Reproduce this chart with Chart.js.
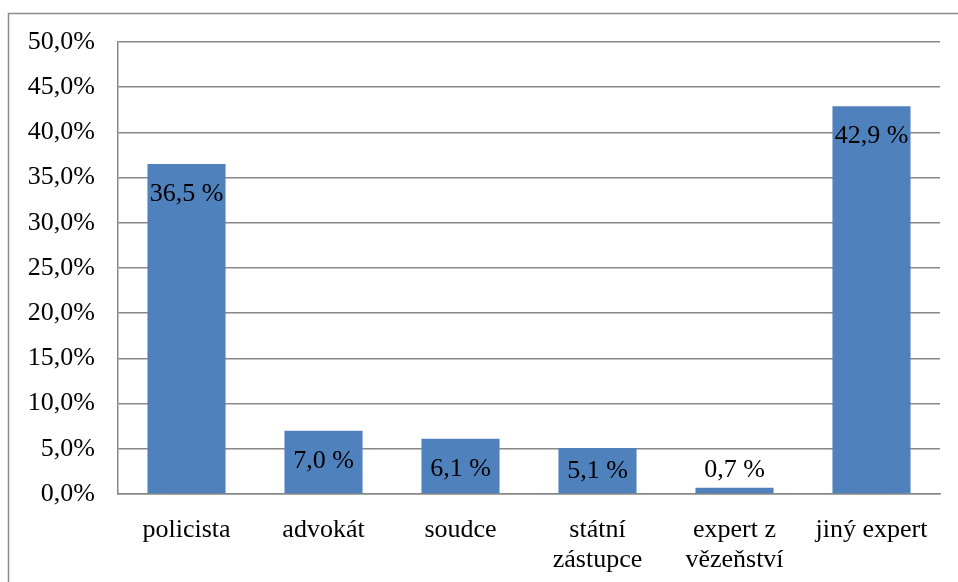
<!DOCTYPE html>
<html>
<head>
<meta charset="utf-8">
<script src="https://cdn.jsdelivr.net/npm/chart.js@4/dist/chart.umd.min.js"></script>
<style>
html,body{margin:0;padding:0;background:#fff;}
#wrap{width:958px;height:582px;position:relative;}
</style>
</head>
<body>
<div id="wrap"><canvas id="c" width="958" height="582"></canvas></div>
<script>
const categories = [["policista"], ["advokát"], ["soudce"], ["státní", "zástupce"], ["expert z", "vězeňství"], ["jiný expert"]];
const values = [36.5, 7.0, 6.1, 5.1, 0.7, 42.9];
const valueLabels = ["36,5 %", "7,0 %", "6,1 %", "5,1 %", "0,7 %", "42,9 %"];
const yTicks = [0, 5, 10, 15, 20, 25, 30, 35, 40, 45, 50];

const FONT = "'Liberation Serif', 'Times New Roman', serif";

const framePlugin = {
  id: 'frame',
  beforeDraw(chart) {
    const ctx = chart.ctx;
    ctx.save();
    ctx.strokeStyle = '#8c8c8c';
    ctx.lineWidth = 1.5;
    ctx.beginPath();
    ctx.moveTo(8.5, 582);
    ctx.lineTo(8.5, 13.5);
    ctx.lineTo(958, 13.5);
    ctx.stroke();
    ctx.restore();
  }
};

const labelPlugin = {
  id: 'vlabels',
  afterDatasetsDraw(chart) {
    const ctx = chart.ctx;
    const meta = chart.getDatasetMeta(0);
    const base = chart.scales.y.getPixelForValue(0);
    ctx.save();
    ctx.font = "26px " + FONT;
    ctx.fillStyle = '#000';
    ctx.textAlign = 'center';
    ctx.textBaseline = 'middle';
    meta.data.forEach((bar, i) => {
      const top = bar.y;
      const h = base - top;
      let y;
      if (h < 30) {
        y = top - 18;
      } else {
        y = Math.min(top + 30, base - 23);
      }
      ctx.fillText(valueLabels[i], bar.x, y);
    });
    ctx.restore();
  }
};

new Chart(document.getElementById('c'), {
  type: 'bar',
  data: {
    labels: categories,
    datasets: [{
      data: values,
      backgroundColor: '#4f81bd',
      borderWidth: 0,
      barPercentage: 0.57,
      categoryPercentage: 1.0
    }]
  },
  options: {
    responsive: false,
    animation: false,
    devicePixelRatio: 1,
    layout: { padding: { top: 42, right: 18, left: 0, bottom: 0 } },
    plugins: { legend: { display: false }, tooltip: { enabled: false } },
    scales: {
      x: {
        afterFit(scale) { scale.height = 88; },
        grid: { display: false, drawTicks: false },
        border: { display: true, color: '#888', width: 1.5 },
        ticks: {
          color: '#000',
          padding: 21,
          maxRotation: 0,
          autoSkip: false,
          font: { family: FONT, size: 26, lineHeight: 1.15 }
        }
      },
      y: {
        min: 0,
        max: 50,
        afterFit(scale) { scale.width = 118; },
        afterBuildTicks(scale) { scale.ticks = yTicks.map(v => ({ value: v })); },
        grid: { color: '#888', lineWidth: 1.5, drawTicks: false },
        border: { display: true, color: '#888', width: 1.5 },
        ticks: {
          color: '#000',
          padding: 23,
          font: { family: FONT, size: 26 },
          callback: (v) => v.toFixed(1).replace('.', ',') + '%'
        }
      }
    }
  },
  plugins: [framePlugin, labelPlugin]
});
</script>
</body>
</html>
